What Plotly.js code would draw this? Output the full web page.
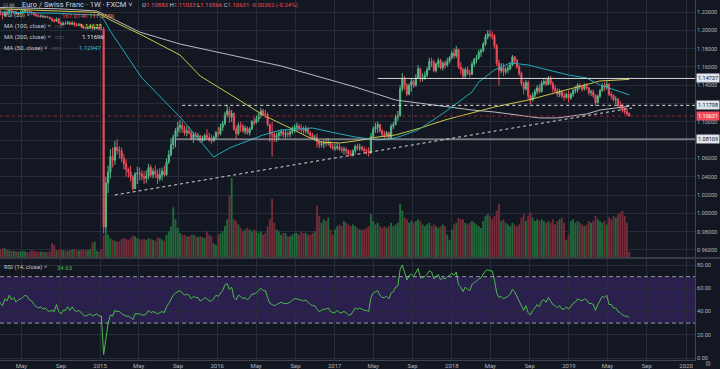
<!DOCTYPE html>
<html><head><meta charset="utf-8">
<script src="https://cdn.plot.ly/plotly-3.0.1.min.js"></script>
<style>html,body{margin:0;padding:0;background:#131722;overflow:hidden}#chart{width:720px;height:369px}</style>
</head><body><div id="chart"></div>
<script>
// ---------- DATA (weekly EUR/CHF, FXCM) ----------
const firstWeek = '2014-02-17';
const firstOpen = 1.2200;

const close2014 = [1.2210,1.2180,1.2165,1.2200,1.2185,1.2220,1.2195,1.2205,1.2180,1.2190,1.2200,1.2205,1.2215,1.2210,1.2195,1.2190,1.2170,1.2160,1.2150,1.2155,1.2145,1.2150,1.2140,1.2130,1.2110,1.2100,1.2125,1.2080,1.2060,1.2075,1.2070,1.2085,1.2065,1.2080,1.2060,1.2055,1.2060,1.2045,1.2025,1.2020,1.2025,1.2030,1.2015,1.2020,1.2025,1.2012];
const high2014 = [1.2235,1.2225,1.2200,1.2215,1.2225,1.2235,1.2240,1.2215,1.2215,1.2200,1.2215,1.2225,1.2230,1.2225,1.2215,1.2215,1.2200,1.2190,1.2170,1.2170,1.2165,1.2160,1.2160,1.2150,1.2140,1.2125,1.2140,1.2135,1.2095,1.2095,1.2100,1.2105,1.2095,1.2100,1.2095,1.2080,1.2080,1.2075,1.2055,1.2040,1.2040,1.2045,1.2040,1.2035,1.2035,1.2030];
const low2014 = [1.2190,1.2165,1.2120,1.2150,1.2170,1.2175,1.2185,1.2180,1.2170,1.2170,1.2180,1.2185,1.2195,1.2200,1.2185,1.2165,1.2160,1.2150,1.2140,1.2140,1.2135,1.2135,1.2130,1.2120,1.2090,1.2085,1.2090,1.2070,1.2045,1.2055,1.2060,1.2065,1.2055,1.2060,1.2040,1.2040,1.2045,1.2030,1.2015,1.2010,1.2010,1.2015,1.2005,1.2005,1.2010,1.2005];
const vol2014 = [40,45,55,50,42,38,36,35,33,30,34,36,33,28,30,40,35,32,30,32,30,28,30,33,80,70,38,40,44,40,38,36,40,42,46,40,38,40,44,42,40,45,85,90,35,30];
const rsi2014 = [52,47,45,51,49,54,50,52,48,50,51,52,54,53,50,49,46,44,43,44,42,43,41,40,41,40,46,40,38,41,41,44,41,44,41,40,41,39,37,36,37,38,36,37,38,36];

const close2015 = [1.2010,0.9850,1.0330,1.0450,1.0620,1.0580,1.0720,1.0690,1.0680,1.0600,1.0540,1.0480,1.0450,1.0400,1.0270,1.0430,1.0440,1.0430,1.0400,1.0380,1.0410,1.0500,1.0420,1.0460,1.0430,1.0380,1.0420,1.0460,1.0420,1.0560,1.0640,1.0750,1.0830,1.0900,1.0940,1.0960,1.0920,1.0880,1.0900,1.0880,1.0820,1.0860,1.0840,1.0845,1.0790,1.0810,1.0850,1.0830,1.0800,1.0790,1.0830,1.0880];
const high2015 = [1.2030,1.2035,1.0400,1.0520,1.0700,1.0720,1.0790,1.0810,1.0730,1.0720,1.0650,1.0590,1.0500,1.0520,1.0420,1.0450,1.0510,1.0500,1.0470,1.0460,1.0470,1.0540,1.0530,1.0490,1.0520,1.0480,1.0490,1.0500,1.0520,1.0600,1.0690,1.0820,1.0860,1.0930,1.1000,1.1020,1.1000,1.0960,1.0950,1.0950,1.0900,1.0890,1.0890,1.0880,1.0860,1.0850,1.0870,1.0920,1.0880,1.0860,1.0850,1.0900];
const low2015 = [1.2000,0.9780,0.9780,1.0220,1.0380,1.0500,1.0530,1.0640,1.0600,1.0560,1.0480,1.0400,1.0390,1.0350,1.0250,1.0260,1.0320,1.0360,1.0360,1.0320,1.0330,1.0370,1.0390,1.0380,1.0390,1.0320,1.0350,1.0360,1.0400,1.0410,1.0540,1.0620,1.0700,1.0720,1.0840,1.0880,1.0880,1.0850,1.0840,1.0860,1.0800,1.0770,1.0800,1.0790,1.0770,1.0780,1.0790,1.0800,1.0780,1.0760,1.0780,1.0810];
const vol2015 = [45,125,150,130,110,100,95,90,90,105,110,105,100,110,125,120,110,105,100,105,100,110,105,100,95,115,110,100,95,130,150,180,290,220,170,140,130,130,120,120,130,130,120,115,120,115,110,150,130,120,80,70];
const rsi2015 = [36,3,18,30,37,36,41,40,40,38,37,36,36,35,33,38,38,38,37,37,38,41,39,40,39,38,39,40,39,44,47,51,54,56,57,58,56,54,55,54,51,53,52,52,49,50,52,51,49,49,51,54];

const close2016 = [1.0870,1.0940,1.0980,1.1080,1.1120,1.1050,1.1090,1.0920,1.0870,1.0960,1.0950,1.0900,1.0930,1.0880,1.0920,1.1000,1.0990,1.1030,1.1070,1.1120,1.1090,1.1080,1.0970,1.0870,1.0860,1.0830,1.0850,1.0880,1.0890,1.0860,1.0870,1.0865,1.0890,1.0920,1.0940,1.0950,1.0930,1.0920,1.0900,1.0920,1.0880,1.0850,1.0820,1.0825,1.0780,1.0750,1.0760,1.0770,1.0765,1.0780,1.0730,1.0710];
const high2016 = [1.0940,1.0980,1.1010,1.1110,1.1190,1.1160,1.1130,1.1100,1.0960,1.0990,1.1000,1.0980,1.0960,1.0950,1.0940,1.1020,1.1050,1.1070,1.1100,1.1150,1.1140,1.1130,1.1100,1.0980,1.1000,1.0900,1.0880,1.0910,1.0920,1.0910,1.0910,1.0900,1.0910,1.0950,1.0970,1.0990,1.0980,1.0970,1.0950,1.0960,1.0940,1.0900,1.0880,1.0860,1.0870,1.0800,1.0790,1.0800,1.0820,1.0820,1.0790,1.0760];
const low2016 = [1.0830,1.0850,1.0900,1.0960,1.1050,1.0990,1.1000,1.0900,1.0810,1.0850,1.0890,1.0880,1.0860,1.0860,1.0850,1.0910,1.0960,1.0980,1.1000,1.1040,1.1060,1.1040,1.0950,1.0780,1.0620,1.0780,1.0780,1.0800,1.0840,1.0830,1.0820,1.0830,1.0830,1.0860,1.0880,1.0900,1.0900,1.0880,1.0870,1.0870,1.0860,1.0830,1.0810,1.0790,1.0720,1.0710,1.0720,1.0710,1.0730,1.0740,1.0710,1.0690];
const vol2016 = [130,140,150,180,220,360,460,220,210,190,170,150,160,170,160,150,160,150,140,150,130,140,180,220,340,200,160,150,130,140,140,120,120,130,140,140,130,150,140,140,130,130,140,150,300,240,200,220,210,230,160,130];
const rsi2016 = [53,56,58,63,64,59,61,52,50,54,53,51,52,50,52,55,55,56,58,60,58,58,52,47,46,45,46,47,48,47,47,47,48,50,51,51,50,50,49,50,48,46,45,45,42,40,41,42,42,43,40,39];

const close2017 = [1.0715,1.0730,1.0700,1.0690,1.0700,1.0680,1.0650,1.0640,1.0680,1.0730,1.0710,1.0720,1.0700,1.0685,1.0680,1.0660,1.0840,1.0920,1.0940,1.0970,1.0900,1.0860,1.0850,1.0880,1.0830,1.0950,1.0970,1.1050,1.1070,1.1360,1.1470,1.1400,1.1300,1.1400,1.1440,1.1400,1.1480,1.1580,1.1470,1.1480,1.1510,1.1570,1.1660,1.1650,1.1560,1.1630,1.1670,1.1590,1.1640,1.1620,1.1660,1.1700];
const high2017 = [1.0760,1.0770,1.0760,1.0730,1.0730,1.0720,1.0700,1.0690,1.0700,1.0750,1.0760,1.0760,1.0740,1.0730,1.0710,1.0720,1.0880,1.0950,1.0990,1.1000,1.0980,1.0920,1.0900,1.0900,1.0890,1.0980,1.1000,1.1080,1.1120,1.1400,1.1530,1.1500,1.1420,1.1420,1.1470,1.1460,1.1520,1.1620,1.1590,1.1530,1.1550,1.1600,1.1700,1.1700,1.1680,1.1650,1.1700,1.1690,1.1660,1.1670,1.1700,1.1720];
const low2017 = [1.0680,1.0690,1.0680,1.0660,1.0640,1.0640,1.0620,1.0620,1.0620,1.0650,1.0690,1.0680,1.0680,1.0660,1.0640,1.0620,1.0650,1.0820,1.0880,1.0880,1.0880,1.0840,1.0820,1.0830,1.0810,1.0820,1.0920,1.0960,1.1010,1.1050,1.1330,1.1350,1.1280,1.1290,1.1330,1.1370,1.1380,1.1470,1.1430,1.1440,1.1460,1.1490,1.1560,1.1600,1.1540,1.1540,1.1590,1.1570,1.1560,1.1580,1.1600,1.1640];
const vol2017 = [160,180,190,180,210,200,190,180,190,180,170,160,160,160,170,180,250,210,190,200,180,170,180,170,180,200,180,190,200,310,270,230,220,200,210,200,210,220,210,190,180,190,200,180,190,180,170,180,190,180,130,100];
const rsi2017 = [39,41,39,39,40,39,37,37,40,43,42,43,42,41,41,40,52,56,57,58,54,52,52,53,51,56,57,61,62,76,80,74,67,71,72,70,73,77,69,69,70,72,75,74,68,70,72,67,69,68,70,71];

const close2018 = [1.1750,1.1720,1.1790,1.1600,1.1570,1.1500,1.1570,1.1530,1.1520,1.1630,1.1680,1.1700,1.1760,1.1780,1.1850,1.1930,1.1960,1.1950,1.1940,1.1830,1.1640,1.1560,1.1590,1.1550,1.1570,1.1580,1.1620,1.1710,1.1670,1.1600,1.1530,1.1420,1.1360,1.1430,1.1280,1.1240,1.1290,1.1330,1.1370,1.1330,1.1420,1.1440,1.1410,1.1480,1.1420,1.1360,1.1340,1.1300,1.1330,1.1280,1.1270,1.1300,1.1260];
const high2018 = [1.1780,1.1800,1.1830,1.1800,1.1650,1.1590,1.1590,1.1600,1.1570,1.1660,1.1700,1.1730,1.1790,1.1800,1.1870,1.1960,1.2000,1.2005,1.1990,1.1960,1.1850,1.1680,1.1640,1.1640,1.1600,1.1620,1.1650,1.1730,1.1720,1.1690,1.1620,1.1550,1.1440,1.1460,1.1450,1.1300,1.1320,1.1360,1.1400,1.1410,1.1450,1.1480,1.1470,1.1500,1.1500,1.1440,1.1400,1.1370,1.1360,1.1350,1.1320,1.1320,1.1340];
const low2018 = [1.1680,1.1690,1.1700,1.1580,1.1520,1.1470,1.1480,1.1510,1.1490,1.1510,1.1600,1.1640,1.1680,1.1710,1.1760,1.1830,1.1900,1.1920,1.1900,1.1800,1.1610,1.1400,1.1530,1.1500,1.1520,1.1530,1.1560,1.1610,1.1630,1.1580,1.1500,1.1390,1.1300,1.1340,1.1250,1.1190,1.1220,1.1260,1.1300,1.1310,1.1320,1.1400,1.1390,1.1400,1.1400,1.1320,1.1320,1.1270,1.1270,1.1260,1.1230,1.1250,1.1210];
const vol2018 = [160,190,200,230,220,220,200,190,200,210,200,190,180,170,210,240,250,240,220,240,270,310,210,220,200,190,180,200,190,180,190,230,250,210,240,260,230,210,220,210,220,210,200,210,200,220,190,210,220,230,200,100,130];
const rsi2018 = [73,71,74,63,61,57,61,59,58,63,65,66,68,69,72,75,76,75,75,67,56,52,53,51,52,53,55,59,57,53,49,44,41,45,39,37,41,43,46,44,49,50,48,52,49,46,45,43,45,42,42,44,42];

const close2019 = [1.1300,1.1340,1.1350,1.1400,1.1380,1.1360,1.1400,1.1370,1.1320,1.1325,1.1290,1.1210,1.1280,1.1340,1.1400,1.1380,1.1410,1.1300,1.1290,1.1240,1.1245,1.1180,1.1170,1.1120,1.1110,1.10883,1.10631];
const high2019 = [1.1320,1.1360,1.1390,1.1420,1.1420,1.1400,1.1420,1.1420,1.1380,1.1350,1.1350,1.1300,1.1300,1.1360,1.1420,1.1430,1.1440,1.1420,1.1330,1.1300,1.1280,1.1260,1.1230,1.1200,1.1160,1.1150,1.11033];
const low2019 = [1.1240,1.1270,1.1310,1.1320,1.1350,1.1330,1.1340,1.1350,1.1290,1.1280,1.1260,1.1170,1.1200,1.1260,1.1330,1.1340,1.1350,1.1280,1.1250,1.1220,1.1190,1.1150,1.1140,1.1100,1.1080,1.1060,1.10566];
const vol2019 = [210,220,200,210,200,190,180,190,210,200,210,240,220,210,200,210,190,230,220,240,230,250,260,270,240,200,30];
const rsi2019 = [45,47,48,51,50,49,51,50,47,47,46,41,46,50,53,52,54,46,46,43,43,40,39,37,36,36,34.63];

// moving averages
const ma50Dates = ['2014-02-17','2014-08-25','2014-12-29','2015-01-12','2015-02-02','2015-05-11','2015-09-07','2015-12-21','2016-02-08','2016-05-23','2016-07-18','2016-10-24','2016-12-19','2017-03-06','2017-05-15','2017-07-10','2017-09-18','2017-12-11','2018-03-05','2018-03-26','2018-05-14','2018-07-02','2018-08-27','2018-10-29','2018-12-31','2019-02-25','2019-04-08','2019-07-08'];
const ma50 = [1.2200,1.2185,1.2165,1.2120,1.1990,1.1480,1.1052,1.0615,1.0714,1.0856,1.0910,1.0932,1.0889,1.0834,1.0801,1.0823,1.0910,1.1107,1.1326,1.1435,1.1566,1.1643,1.1621,1.1566,1.1511,1.1479,1.1402,1.12947];
const ma100Dates = ['2014-02-17','2014-08-25','2014-12-22','2015-02-02','2015-05-04','2015-09-07','2015-11-09','2016-02-08','2016-05-23','2016-08-15','2016-10-10','2016-11-21','2017-01-16','2017-03-06','2017-05-15','2017-07-10','2017-09-25','2017-12-11','2018-02-19','2018-05-14','2018-08-27','2018-12-03','2019-02-25','2019-04-08','2019-07-08'];
const ma100 = [1.2235,1.2215,1.2195,1.2113,1.1960,1.1730,1.1500,1.1304,1.1074,1.0932,1.0834,1.0779,1.0768,1.0790,1.0834,1.0856,1.0932,1.1020,1.1085,1.1162,1.1238,1.1326,1.1402,1.1446,1.14638];
const ma200Dates = ['2014-02-17','2014-08-25','2014-12-22','2015-05-04','2015-09-07','2016-02-08','2016-07-18','2017-03-06','2017-07-10','2018-03-05','2018-05-14','2018-10-01','2018-11-26','2019-02-25','2019-04-08','2019-07-08'];
const ma200 = [1.2250,1.2235,1.2211,1.1981,1.1850,1.1730,1.1610,1.1380,1.1238,1.1129,1.1107,1.1042,1.1042,1.1085,1.1129,1.11696];

// drawn levels
const levelSolidHigh = {price:1.14737, from:'2017-05-15'};
const levelDashed = {price:1.11798, from:'2015-09-14'};
const levelSolidLow = {price:1.08109, from:'2015-08-24'};
const trendLine = {d0:'2015-02-16', p0:1.0200, d1:'2019-07-17', p1:1.1151};
const lastPrice = 1.10631;

const xTickVals = ['2014-05-01','2014-09-01','2015-01-01','2015-05-01','2015-09-01','2016-01-01','2016-05-01','2016-09-01','2017-01-01','2017-05-01','2017-09-01','2018-01-01','2018-05-01','2018-09-01','2019-01-01','2019-05-01','2019-09-01','2020-01-01'];
const xTickText = ['May','Sep','2015','May','Sep','2016','May','Sep','2017','May','Sep','2018','May','Sep','2019','May','Sep','2020'];
const priceTicks = [0.96,0.98,1.00,1.02,1.04,1.06,1.08,1.10,1.12,1.14,1.16,1.18,1.20,1.22];
const priceTickText = ['0.96000','0.98000','1.00000','1.02000','1.04000','1.06000','','1.10000','','1.14000','1.16000','1.18000','1.20000','1.22000'];
const rsiTicks = [0,20,40,60,80];

// ---------- BUILD ----------
const closes = [].concat(close2014,close2015,close2016,close2017,close2018,close2019);
const highs = [].concat(high2014,high2015,high2016,high2017,high2018,high2019);
const lows = [].concat(low2014,low2015,low2016,low2017,low2018,low2019);
const vols = [].concat(vol2014,vol2015,vol2016,vol2017,vol2018,vol2019);
const rsis = [].concat(rsi2014,rsi2015,rsi2016,rsi2017,rsi2018,rsi2019);
const opens = closes.map((c,i)=> i===0 ? firstOpen : closes[i-1]);
const t0 = Date.parse(firstWeek+'T00:00:00Z');
const dates = closes.map((_,i)=> new Date(t0 + i*7*864e5).toISOString().slice(0,10));

const UP='#53b987', DN='#eb4d5c';
const volColors = closes.map((c,i)=> c>=opens[i] ? '#22693a' : '#742b39');
const FONT = 'Roboto, "Liberation Sans", sans-serif';
const GRID = '#272c3b';
const TXT = '#b2b5be';
const xEnd = '2020-01-29';

const traces = [
  {type:'bar', x:dates, y:vols, xaxis:'x', yaxis:'y3', marker:{color:volColors, line:{width:0}}, hoverinfo:'skip', showlegend:false},
  {type:'candlestick', x:dates, open:opens, high:highs, low:lows, close:closes, xaxis:'x', yaxis:'y',
   increasing:{line:{color:UP,width:1}, fillcolor:UP}, decreasing:{line:{color:DN,width:1}, fillcolor:DN},
   whiskerwidth:0, hoverinfo:'skip', showlegend:false},
  {type:'scatter', mode:'lines', x:ma200Dates, y:ma200, xaxis:'x', yaxis:'y', line:{color:'#b9bac2', width:1}, hoverinfo:'skip', showlegend:false},
  {type:'scatter', mode:'lines', x:ma100Dates, y:ma100, xaxis:'x', yaxis:'y', line:{color:'#cbc64a', width:1}, hoverinfo:'skip', showlegend:false},
  {type:'scatter', mode:'lines', x:ma50Dates, y:ma50, xaxis:'x', yaxis:'y', line:{color:'#22aab9', width:1}, hoverinfo:'skip', showlegend:false},
  {type:'scatter', mode:'lines', x:dates, y:rsis, xaxis:'x', yaxis:'y2', line:{color:'#4cbb4c', width:1}, hoverinfo:'skip', showlegend:false}
];

const PW=695, PH=360;
const px = x => x/PW, py = y => 1 - y/PH;

const shapes = [
  {type:'rect', xref:'paper', yref:'y2', x0:0, x1:1, y0:30, y1:70, fillcolor:'rgba(98,54,180,0.30)', line:{width:0}, layer:'below'},
  {type:'line', xref:'paper', yref:'y2', x0:0, x1:1, y0:70, y1:70, line:{color:'rgba(190,190,205,0.75)', width:1, dash:'4px,3px'}},
  {type:'line', xref:'paper', yref:'y2', x0:0, x1:1, y0:30, y1:30, line:{color:'rgba(190,190,205,0.75)', width:1, dash:'4px,3px'}},
  {type:'line', xref:'paper', yref:'paper', x0:0, x1:720/PW, y0:py(258), y1:py(258), line:{color:'#5d606b', width:1}},
  {type:'line', xref:'paper', yref:'y', x0:0, x1:1, y0:lastPrice, y1:lastPrice, line:{color:'rgba(150,45,58,0.9)', width:1, dash:'dot'}},
  {type:'line', xref:'x', yref:'y', x0:levelSolidHigh.from, x1:xEnd, y0:levelSolidHigh.price, y1:levelSolidHigh.price, line:{color:'#d6d6d6', width:1}},
  {type:'line', xref:'x', yref:'y', x0:levelDashed.from, x1:xEnd, y0:levelDashed.price, y1:levelDashed.price, line:{color:'#e0e0e0', width:1, dash:'3px,3px'}},
  {type:'line', xref:'x', yref:'y', x0:levelSolidLow.from, x1:xEnd, y0:levelSolidLow.price, y1:levelSolidLow.price, line:{color:'#bfbfbf', width:1}},
  {type:'line', xref:'x', yref:'y', x0:trendLine.d0, x1:trendLine.d1, y0:trendLine.p0, y1:trendLine.p1, line:{color:'#d8d8d8', width:1, dash:'3px,3px'}}
];

function txt(x, y, text, size, color){
  return {xref:'paper', yref:'paper', x:px(x), y:py(y), xanchor:'left', yanchor:'middle', text:text, showarrow:false,
          font:{family:FONT, size:size, color:color||'#c8cad1'}};
}
function priceLabel(p, bg, fg){
  return {xref:'paper', yref:'y', x:1, y:p, xanchor:'left', yanchor:'middle', xshift:1, text:p.toFixed(5), showarrow:false,
          bgcolor:bg, borderpad:1, font:{family:FONT, size:5.5, color:fg}};
}
const icons = '<span style="color:#6b6f7a">□□□</span>';
const r = s => '<span style="color:#eb4d5c">'+s+'</span>';
const annotations = [
  txt(1, 5, '<span style="color:#8a8e99">⊟ ▤</span>', 6),
  txt(20, 5, 'Euro / Swiss Franc · 1W · FXCM ˅', 7.5, '#d1d4dc'),
  txt(140, 5, 'O'+r('1.10883')+' H'+r('1.11033')+' L'+r('1.10566')+' C'+r('1.10631')+' '+r('-0.00262 (-0.24%)'), 6, '#c8cad1'),
  txt(2, 15.5, 'Vol (20) ˅', 6),
  txt(33, 15.5, icons, 5),
  txt(60, 15.5, '<span style="color:#eb4d5c">167.014K</span>', 6),
  txt(87, 15.5, '<span style="color:#e8903a">117.285K</span>', 6),
  txt(2, 26, 'MA (100, close) ˅', 6),
  txt(53, 26, icons, 5),
  txt(78, 26, '<span style="color:#e3df3c">1.14638</span>', 6),
  txt(2, 37, 'MA (200, close) ˅', 6),
  txt(53, 37, icons, 5),
  txt(80, 37, '<span style="color:#e6e6ea">1.11696</span>', 6),
  txt(2, 48, 'MA (50, close) ˅', 6),
  txt(50, 48, icons, 5),
  txt(77, 48, '<span style="color:#2bc3d3">1.12947</span>', 6),
  txt(2, 267, 'RSI (14, close) ˅', 6),
  txt(55, 267, '<span style="color:#4cbb4c">34.63</span>', 6),
  priceLabel(levelSolidHigh.price, '#e0e3eb', '#131722'),
  priceLabel(levelDashed.price, '#e0e3eb', '#131722'),
  priceLabel(levelSolidLow.price, '#e0e3eb', '#131722'),
  priceLabel(lastPrice, '#eb4d5c', '#ffffff'),
  {xref:'paper', yref:'paper', x:708/PW, y:py(364), xanchor:'center', yanchor:'middle', text:'⚙', showarrow:false, font:{family:'DejaVu Sans', size:7, color:'#8a8e99'}}
];

const layout = {
  width:720, height:369, autosize:false,
  margin:{l:0, r:25, t:0, b:9, pad:0},
  paper_bgcolor:'#131722', plot_bgcolor:'#131722',
  showlegend:false, hovermode:false, dragmode:false,
  font:{family:FONT, size:6, color:TXT},
  bargap:0.15,
  xaxis:{type:'date', range:['2014-02-23', xEnd], anchor:'y2', tickvals:xTickVals, ticktext:xTickText,
         showgrid:true, gridcolor:GRID, gridwidth:1, ticks:'', showline:true, linecolor:'#434651',
         zeroline:false, tickfont:{size:6, color:TXT}, rangeslider:{visible:false}, fixedrange:true},
  yaxis:{domain:[0.2861,1], range:[0.95224,1.23311], side:'right', tickvals:priceTicks,
         ticktext:priceTickText, showgrid:true, gridcolor:GRID, ticks:'', showline:true,
         linecolor:'#434651', zeroline:false, tickfont:{size:5.5, color:TXT}, fixedrange:true},
  yaxis2:{domain:[0,0.2806], range:[-1.72,85.18], side:'right', tickvals:rsiTicks,
          ticktext:rsiTicks.map(v=>v.toFixed(2)), showgrid:true, gridcolor:GRID, ticks:'', showline:true,
          linecolor:'#434651', zeroline:false, tickfont:{size:5.5, color:TXT}, fixedrange:true, anchor:'x'},
  yaxis3:{overlaying:'y', anchor:'x', range:[0,1500], visible:false, showgrid:false, fixedrange:true},
  shapes:shapes, annotations:annotations
};

Plotly.newPlot('chart', traces, layout, {staticPlot:true, displayModeBar:false});
</script></body></html>
